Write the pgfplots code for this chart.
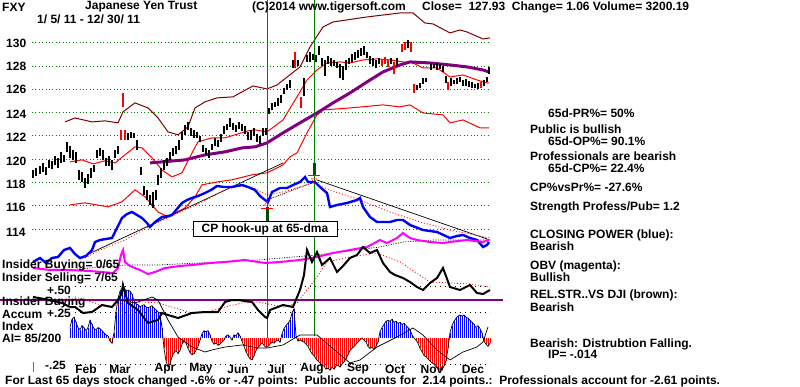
\documentclass[border=0pt]{standalone}
\usepackage{pgfplots}
\usepackage{pgfplotstable}
\pgfplotsset{compat=1.18}
\usepackage{fontspec}
\setmainfont{Liberation Sans}
\definecolor{dkred}{RGB}{128,0,0}
\definecolor{purp}{RGB}{128,0,128}
\definecolor{dkgreen}{RGB}{0,128,0}
\definecolor{mag}{RGB}{255,0,255}
\definecolor{oliv}{RGB}{128,128,0}
\newcommand{\T}{\fontsize{12}{12.5}\selectfont\bfseries}
\pgfplotsset{base/.style={width=800pt,height=387pt,scale only axis,hide axis,xmin=0,xmax=800,clip=false}}

% price bars: x (plot position), low, high
\pgfplotstableread{
x lo hi
33 118.40 119.08
36 118.57 119.26
40 118.74 119.43
43 118.91 119.68
46 118.66 119.34
49 119.26 119.94
52 119.17 119.86
55 119.51 120.28
58 119.26 120.11
61 119.68 120.63
64 119.77 120.37
67 120.63 121.49
70 120.11 121.14
73 119.94 120.80
76 119.68 120.63
79 118.23 119.08
82 118.06 118.91
85 117.54 118.40
88 117.88 118.74
91 118.40 119.26
94 118.91 119.51
97 120.11 120.80
100 120.28 120.97
103 119.94 120.80
106 119.43 120.11
109 119.43 120.28
112 119.08 119.94
115 120.11 120.80
118 120.46 121.14
128 121.66 122.26
131 121.83 122.34
134 121.83 122.26
137 120.80 121.66
141 118.66 119.34
144 116.94 117.71
147 116.51 117.37
150 116.08 116.94
153 115.82 117.20
156 116.51 117.37
158 117.80 118.66
161 118.40 119.26
164 119.08 119.94
167 119.43 120.11
170 119.94 120.63
173 120.28 120.97
176 120.46 121.14
179 120.80 121.66
182 121.66 122.34
185 122.09 122.95
188 122.52 123.20
191 122.00 122.69
194 121.83 122.52
197 121.83 122.34
200 121.49 122.00
203 120.63 121.23
206 120.37 120.97
209 120.11 120.80
212 120.80 121.31
215 121.14 121.83
218 121.06 121.66
221 121.49 122.17
224 122.17 122.86
227 122.52 123.03
230 122.77 123.54
233 122.52 123.12
236 122.34 122.95
239 122.60 123.20
242 122.43 123.03
245 122.17 122.86
248 121.66 122.34
251 121.66 122.52
254 122.00 122.69
257 121.49 122.17
260 121.31 122.00
263 122.00 122.69
266 122.09 122.69
269 123.89 124.40
272 124.23 124.83
275 124.49 124.92
278 124.58 125.26
281 124.83 125.52
284 125.60 126.12
287 125.95 126.46
290 126.12 126.80
293 127.83 128.52
298 128.01 128.52
304 125.43 126.98
307 128.35 128.95
310 128.35 129.21
313 128.52 129.04
316 128.35 128.95
319 128.95 129.72
322 128.01 128.69
325 127.15 128.52
328 128.18 128.86
331 128.01 128.69
334 128.01 128.52
337 127.83 128.35
340 126.98 128.18
343 126.80 128.01
346 127.66 128.52
349 128.18 128.69
352 128.35 129.04
355 128.52 129.21
358 128.69 129.38
361 128.86 129.55
364 128.95 129.72
367 128.69 129.21
370 128.18 128.86
373 128.01 128.69
376 127.83 128.52
379 128.18 128.69
391 128.18 128.69
397 128.01 128.69
408 129.55 130.24
417 125.95 126.37
420 126.12 126.55
423 126.46 126.98
426 126.63 126.98
431 127.66 128.26
434 127.83 128.18
437 127.66 128.26
440 127.75 128.18
443 127.49 128.01
446 126.55 127.15
451 126.29 126.98
454 126.46 126.80
457 126.46 126.98
460 126.63 127.06
463 126.29 126.80
466 126.29 126.89
469 126.20 126.72
472 126.12 126.63
475 126.12 126.46
478 126.03 126.55
484 126.29 126.80
487 126.63 127.06
489 127.32 127.92
}\bars
\pgfplotstableread{
x lo hi
121 121.66 122.52
123 124.49 125.69
125 121.66 122.52
295 127.83 129.21
301 124.40 125.35
382 128.01 128.52
385 128.18 128.78
388 127.92 128.52
394 127.32 128.35
402 129.21 129.89
405 129.38 130.07
411 129.21 130.07
414 125.69 126.46
448 125.95 126.63
481 126.12 126.63
}\redbars
% accumulation index
\pgfplotstableread{
x a
70 0.10
72 0.18
74 0.20
76 0.15
78 0.10
80 0.08
82 0.12
84 0.10
86 0.07
88 0.10
90 0.17
92 0.13
94 0.09
96 0.08
98 0.10
100 0.09
102 0.07
104 0.05
106 0.03
108 0.02
110 -0.03
112 -0.05
114 0.05
116 0.25
118 0.38
120 0.45
122 0.48
124 0.47
126 0.46
128 0.46
130 0.45
132 0.42
134 0.36
136 0.33
138 0.32
140 0.30
142 0.31
144 0.32
146 0.30
148 0.29
150 0.30
152 0.31
154 0.29
156 0.27
158 0.25
160 0.24
162 0.10
164 -0.10
166 -0.22
168 -0.28
170 -0.25
172 -0.18
174 -0.14
176 -0.12
178 -0.15
180 -0.12
182 -0.06
184 -0.03
186 -0.05
188 -0.10
190 -0.14
192 -0.16
194 -0.15
196 -0.12
198 -0.08
200 -0.02
202 0.04
204 0.07
206 0.06
208 0.07
210 0.03
212 -0.03
214 -0.06
216 -0.05
218 -0.07
220 -0.06
222 -0.04
224 -0.02
226 0.02
228 0.03
230 0.01
232 -0.02
234 0.03
236 0.02
238 0.05
240 0.02
242 -0.03
244 -0.08
246 -0.13
248 -0.17
250 -0.20
252 -0.21
254 -0.17
256 -0.12
258 -0.09
260 -0.07
262 -0.05
264 -0.07
266 -0.09
268 -0.08
270 -0.06
272 -0.04
274 -0.05
276 -0.03
278 -0.02
280 -0.04
282 0.04
284 0.09
286 0.12
288 0.14
290 0.17
292 0.24
294 0.28
296 0.02
298 -0.03
300 -0.02
302 -0.03
304 -0.04
306 -0.06
308 -0.08
310 -0.12
312 -0.15
314 -0.17
316 -0.20
318 -0.22
320 -0.24
322 -0.26
324 -0.27
326 -0.30
328 -0.29
330 -0.31
332 -0.28
334 -0.30
336 -0.27
338 -0.26
340 -0.28
342 -0.25
344 -0.23
346 -0.20
348 -0.16
350 -0.12
352 -0.10
354 -0.08
356 -0.06
358 -0.04
360 -0.02
362 0.00
364 -0.02
366 -0.04
368 -0.08
370 -0.10
372 -0.09
374 -0.11
376 -0.08
378 -0.04
380 0.06
382 0.10
384 0.13
386 0.16
388 0.17
390 0.16
392 0.18
394 0.15
396 0.16
398 0.14
400 0.15
402 0.13
404 0.14
406 0.12
408 0.10
410 0.08
412 0.03
414 0.00
416 -0.02
418 -0.05
420 -0.10
422 -0.13
424 -0.17
426 -0.18
428 -0.20
430 -0.22
432 -0.24
434 -0.25
436 -0.28
438 -0.29
440 -0.30
442 -0.31
444 -0.27
446 -0.22
448 -0.10
450 0.05
452 0.12
454 0.16
456 0.19
458 0.21
460 0.22
462 0.21
464 0.22
466 0.20
468 0.19
470 0.17
472 0.15
474 0.13
476 0.10
478 0.12
480 0.09
482 0.05
484 -0.03
486 -0.06
488 -0.08
490 -0.05
}\accum

\begin{document}
\begin{tikzpicture}
% ---------------- price axis ----------------
\begin{axis}[base, ymin=100.446, ymax=133.665]
\addplot[dkgreen, line width=0.8pt, dash pattern=on 0.8pt off 2.6pt] coordinates {(32,130) (490,130)};
\addplot[dkgreen, line width=0.8pt, dash pattern=on 0.8pt off 2.6pt] coordinates {(32,128) (490,128)};
\addplot[dkgreen, line width=0.8pt, dash pattern=on 0.8pt off 2.6pt] coordinates {(32,126) (490,126)};
\addplot[dkgreen, line width=0.8pt, dash pattern=on 0.8pt off 2.6pt] coordinates {(32,124) (490,124)};
\addplot[dkgreen, line width=0.8pt, dash pattern=on 0.8pt off 2.6pt] coordinates {(32,122) (490,122)};
\addplot[dkgreen, line width=0.8pt, dash pattern=on 0.8pt off 2.6pt] coordinates {(32,120) (490,120)};
\addplot[dkgreen, line width=0.8pt, dash pattern=on 0.8pt off 2.6pt] coordinates {(32,118) (490,118)};
\addplot[dkgreen, line width=0.8pt, dash pattern=on 0.8pt off 2.6pt] coordinates {(32,116) (490,116)};
\addplot[dkgreen, line width=0.8pt, dash pattern=on 0.8pt off 2.6pt] coordinates {(32,114) (490,114)};
\addplot[dkred, line width=1pt] coordinates {(65,123.20)(75,123.54)(92,123.20)(105,123.29)(118,123.12)(123,124.06)(135,124.83)(148,124.40)(158,123.54)(168,122.34)(178,122.09)(188,122.77)(195,124.40)(205,124.92)(217,125.26)(233,125.35)(253,126.29)(267,126.03)(277,126.37)(300,127.92)(310,129.63)(323,131.35)(333,131.78)(367,132.21)(400,132.55)(413,132.55)(425,131.69)(433,131.61)(450,130.84)(460,131.09)(467,130.92)(483,130.32)(490,130.41)};
\addplot[red, line width=1pt] coordinates {(70,116.08)(85,116.25)(108,115.91)(122,116.34)(135,117.37)(145,116.77)(158,115.48)(168,115.05)(185,115.82)(195,116.77)(202,117.80)(218,118.06)(232,118.23)(252,118.66)(267,118.83)(283,119.51)(290,120.20)(297,120.54)(307,122.26)(317,123.80)(323,124.23)(350,124.40)(383,124.66)(400,124.49)(410,124.66)(423,123.97)(443,123.80)(450,123.12)(463,123.37)(480,122.69)(489,122.69)};
\addplot[red, line width=1pt] coordinates {(70,119.77)(82,119.94)(93,119.60)(105,119.86)(115,119.68)(125,120.37)(135,121.06)(142,120.97)(152,120.11)(162,119.08)(172,118.48)(182,118.83)(192,120.54)(198,121.49)(212,121.83)(225,121.83)(238,122.17)(248,122.43)(255,122.52)(267,122.34)(283,123.37)(297,125.35)(307,126.80)(317,127.66)(327,128.26)(340,128.35)(350,128.26)(363,128.52)(377,128.61)(390,128.52)(403,128.35)(413,128.26)(423,127.83)(437,127.83)(450,127.06)(463,127.23)(477,126.80)(487,126.55)(489,126.55)};
\addplot[purp, line width=3pt] coordinates {(150,119.68)(185,119.94)(205,120.37)(225,120.63)(242,120.97)(255,121.06)(267,121.40)(283,122.26)(300,123.12)(317,123.97)(333,124.83)(350,125.69)(367,126.63)(383,127.49)(400,128.09)(410,128.35)(430,128.26)(450,128.09)(467,127.92)(483,127.66)(489,127.49)};
\addplot[black, line width=1.3pt, mark=none, quiver={u=0, v=\thisrow{hi}-\thisrow{lo}}] table[x=x, y=lo] {\bars};
\addplot[red, line width=1.3pt, mark=none, quiver={u=0, v=\thisrow{hi}-\thisrow{lo}}] table[x=x, y=lo] {\redbars};
\end{axis}
% ---------------- accumulation axis ----------------
\begin{axis}[base, ymin=-0.4712, ymax=3.25]
\addplot[blue, ycomb, line width=1pt, restrict y to domain=0:1] table[x=x,y=a] {\accum};
\addplot[red, ycomb, line width=1pt, restrict y to domain=-1:0] table[x=x,y=a] {\accum};
\addplot[black, line width=0.7pt] table[x=x,y=a] {\accum};
\addplot[black, line width=0.6pt, dash pattern=on 1pt off 4pt] coordinates {(75,0.5)(490,0.5)};
\addplot[black, line width=0.6pt, dash pattern=on 1pt off 4pt] coordinates {(75,0.25)(490,0.25)};
\addplot[black, line width=0.6pt, dash pattern=on 1pt off 4pt] coordinates {(75,-0.25)(490,-0.25)};
\end{axis}
% ---------------- pixel axis (indicators, text) ----------------
\begin{axis}[base, ymin=0, ymax=387, y dir=reverse]
\addplot[dkgreen, line width=1pt] coordinates {(267,0)(267,338)};
\addplot[dkgreen, line width=1pt] coordinates {(314,0)(314,336)};
\addplot[purp, line width=1.3pt] coordinates {(0,300)(503,300)};
\addplot[black, line width=0.7pt] coordinates {(80,258)(283,163)};
\addplot[black, line width=0.7pt] coordinates {(317,180)(490,240)};
\addplot[black, line width=0.7pt, dash pattern=on 1pt off 1pt] coordinates {(267,200)(314,182)};
\addplot[red, line width=0.8pt, dash pattern=on 1pt off 2pt] coordinates {(85,258)(100,250)(125,240)(152,225)(168,218)(185,210)(202,202)(225,190)(238,186)(252,187)(267,195)(283,192)(300,187)(313,183)(330,190)(360,200)(390,212)(420,222)(450,230)(490,238)};
\addplot[blue, line width=2.4pt] coordinates {(33,262)(40,258)(46,263)(52,258)(58,257)(64,250)(70,248)(75,254)(80,258)(86,256)(92,250)(95,242)(100,240)(106,239)(112,238)(117,228)(122,218)(127,214)(132,212)(137,215)(142,218)(147,223)(150,227)(155,222)(162,217)(168,216)(172,215)(177,209)(182,203)(187,200)(192,198)(198,196)(205,193)(211,190)(217,186)(224,187)(232,187)(237,186)(242,185)(248,187)(255,190)(260,196)(265,200)(268,202)(272,192)(280,188)(287,188)(293,185)(300,182)(305,177)(308,182)(315,182)(320,187)(327,193)(330,207)(337,205)(347,203)(357,200)(360,198)(363,207)(370,217)(377,222)(390,222)(397,220)(403,220)(410,225)(423,230)(437,232)(450,238)(457,236)(463,235)(470,238)(477,240)(483,247)(487,245)(489,242)};
\addplot[black, line width=0.7pt, dash pattern=on 1pt off 1.5pt] coordinates {(67,270)(125,265)(158,265)(258,260)(317,255)(380,247)(403,242)(433,240)(489,240)};
\addplot[mag, line width=2pt] coordinates {(33,268)(50,270)(67,270)(90,271)(113,273)(118,268)(121,255)(123,250)(125,262)(130,266)(140,270)(148,274)(155,272)(165,268)(180,266)(192,265)(210,263)(225,262)(245,260)(265,263)(280,262)(300,260)(317,257)(333,253)(350,250)(367,247)(380,240)(387,243)(397,238)(403,233)(410,238)(417,240)(430,242)(443,243)(450,242)(467,240)(483,242)(489,240)};
\addplot[red, line width=0.8pt, dash pattern=on 1pt off 2pt] coordinates {(75,297)(108,307)(125,303)(142,302)(158,303)(175,308)(192,313)(208,312)(225,307)(242,303)(258,302)(283,307)(297,303)(307,290)(317,277)(327,262)(350,257)(377,253)(400,262)(415,272)(430,282)(450,283)(470,284)(490,287)};
\addplot[black, line width=2pt] coordinates {(33,297)(50,300)(62,303)(70,307)(75,307)(83,313)(92,312)(102,305)(112,307)(118,300)(122,293)(123,285)(128,303)(138,310)(148,323)(158,320)(162,313)(168,315)(178,318)(192,313)(205,312)(218,312)(225,302)(232,300)(238,300)(245,301)(252,302)(258,310)(265,317)(267,318)(270,310)(283,305)(293,307)(300,290)(304,275)(307,250)(312,262)(317,252)(322,265)(330,258)(337,272)(343,266)(350,258)(357,255)(363,247)(370,253)(377,250)(383,263)(390,272)(395,275)(403,278)(410,282)(417,287)(423,290)(430,283)(437,278)(443,268)(450,287)(460,290)(470,285)(477,293)(483,294)(490,290)};
\addplot[black, line width=0.7pt] coordinates {(120,300)(135,303)(152,297)(158,300)(168,320)(178,337)(192,347)(205,352)(212,350)(225,347)(242,345)(258,348)(267,348)(283,345)(300,335)(317,335)(337,352)(350,363)(360,360)(377,347)(397,337)(413,328)(423,335)(437,350)(450,360)(463,352)(477,347)(483,342)(488,327)};
\addplot[dkgreen!60!black, line width=3pt] coordinates {(267,207)(267,222)};
\addplot[red, line width=1pt] coordinates {(261,209)(273,209)};
\addplot[red, only marks, mark=triangle, mark size=3pt] coordinates {(267,204)};
\addplot[dkgreen!60!black, line width=3pt] coordinates {(314,163)(314,175)};
\addplot[red, line width=1pt] coordinates {(308,176)(320,176)};
\addplot[red, only marks, mark=triangle, mark options={rotate=180}, mark size=3pt] coordinates {(314,180)};
\addplot[oliv, line width=1pt] coordinates {(33,362)(33,372)};
\node[anchor=west, inner sep=0] at (axis cs:2,7) {\T FXY};
\node[anchor=west, inner sep=0] at (axis cs:85,7) {\T Japanese Yen Trust};
\node[anchor=west, inner sep=0] at (axis cs:252,7) {\T (C)2014 www.tigersoft.com};
\node[anchor=west, inner sep=0] at (axis cs:422,7) {\T Close=\ \ 127.93\ \ Change= 1.06 Volume= 3200.19};
\node[anchor=west, inner sep=0] at (axis cs:37,19) {\T 1/ 5/ 11 - 12/ 30/ 11};
\node[anchor=west, inner sep=0] at (axis cs:6,43) {\T 130};
\node[anchor=west, inner sep=0] at (axis cs:6,66) {\T 128};
\node[anchor=west, inner sep=0] at (axis cs:6,89) {\T 126};
\node[anchor=west, inner sep=0] at (axis cs:6,114) {\T 124};
\node[anchor=west, inner sep=0] at (axis cs:6,137) {\T 122};
\node[anchor=west, inner sep=0] at (axis cs:6,161) {\T 120};
\node[anchor=west, inner sep=0] at (axis cs:6,184) {\T 118};
\node[anchor=west, inner sep=0] at (axis cs:6,207) {\T 116};
\node[anchor=west, inner sep=0] at (axis cs:6,232) {\T 114};
\node[fill=white, draw=black, line width=0.8pt, inner xsep=6pt, inner ysep=2pt, minimum width=144pt, minimum height=14pt] at (axis cs:265,229) {\T CP hook-up at 65-dma};
\node[anchor=west, inner sep=0] at (axis cs:548,113) {\T 65d-PR\%= 50\%};
\node[anchor=west, inner sep=0] at (axis cs:530,129) {\T Public is bullish};
\node[anchor=west, inner sep=0] at (axis cs:548,141) {\T 65d-OP\%= 90.1\%};
\node[anchor=west, inner sep=0] at (axis cs:530,156) {\T Professionals are bearish};
\node[anchor=west, inner sep=0] at (axis cs:548,168) {\T 65d-CP\%= 22.4\%};
\node[anchor=west, inner sep=0] at (axis cs:530,187) {\T CP\%vsPr\%= -27.6\%};
\node[anchor=west, inner sep=0] at (axis cs:530,207) {\T Strength Profess/Pub= 1.2};
\node[anchor=west, inner sep=0] at (axis cs:530,235) {\T CLOSING POWER (blue):};
\node[anchor=west, inner sep=0] at (axis cs:530,246) {\T Bearish};
\node[anchor=west, inner sep=0] at (axis cs:530,266) {\T OBV (magenta):};
\node[anchor=west, inner sep=0] at (axis cs:530,277) {\T Bullish};
\node[anchor=west, inner sep=0] at (axis cs:530,295) {\T REL.STR..VS DJI (brown):};
\node[anchor=west, inner sep=0] at (axis cs:530,307) {\T Bearish};
\node[anchor=west, inner sep=0] at (axis cs:530,344) {\T Bearish: Distrubtion Falling.};
\node[anchor=west, inner sep=0] at (axis cs:548,354) {\T IP= -.014};
\node[anchor=west, inner sep=0] at (axis cs:47,290) {\T +.50};
\node[anchor=west, inner sep=0] at (axis cs:2,265) {\T Insider Buying= 0/65};
\node[anchor=west, inner sep=0] at (axis cs:2,278) {\T Insider Selling= 7/65};
\node[anchor=west, inner sep=0] at (axis cs:2,302) {\T Insider Buying};
\node[anchor=west, inner sep=0] at (axis cs:2,314) {\T Accum};
\node[anchor=west, inner sep=0] at (axis cs:47,313) {\T +.25};
\node[anchor=west, inner sep=0] at (axis cs:2,326) {\T Index};
\node[anchor=west, inner sep=0] at (axis cs:2,338) {\T AI= 85/200};
\node[anchor=west, inner sep=0] at (axis cs:45,365) {\T -.25};
\node[inner sep=0] at (axis cs:86,369) {\T Feb};
\node[inner sep=0] at (axis cs:120,369) {\T Mar};
\node[inner sep=0] at (axis cs:165,369) {\T Apr};
\node[inner sep=0] at (axis cs:201,369) {\T May};
\node[inner sep=0] at (axis cs:238,369) {\T Jun};
\node[inner sep=0] at (axis cs:276,369) {\T Jul};
\node[inner sep=0] at (axis cs:312,369) {\T Aug};
\node[inner sep=0] at (axis cs:358,369) {\T Sep};
\node[inner sep=0] at (axis cs:395,369) {\T Oct};
\node[inner sep=0] at (axis cs:432,369) {\T Nov};
\node[inner sep=0] at (axis cs:473,369) {\T Dec};
\node[anchor=west, inner sep=0] at (axis cs:5,381) {\T For Last 65 days stock changed -.6\% or -.47 points:\ \ Public accounts for\ \ 2.14 points.:\ \ Professionals account for -2.61 points.};
\end{axis}
\pgfresetboundingbox
\useasboundingbox (0,0) rectangle (800pt,387pt);
\end{tikzpicture}
\end{document}
